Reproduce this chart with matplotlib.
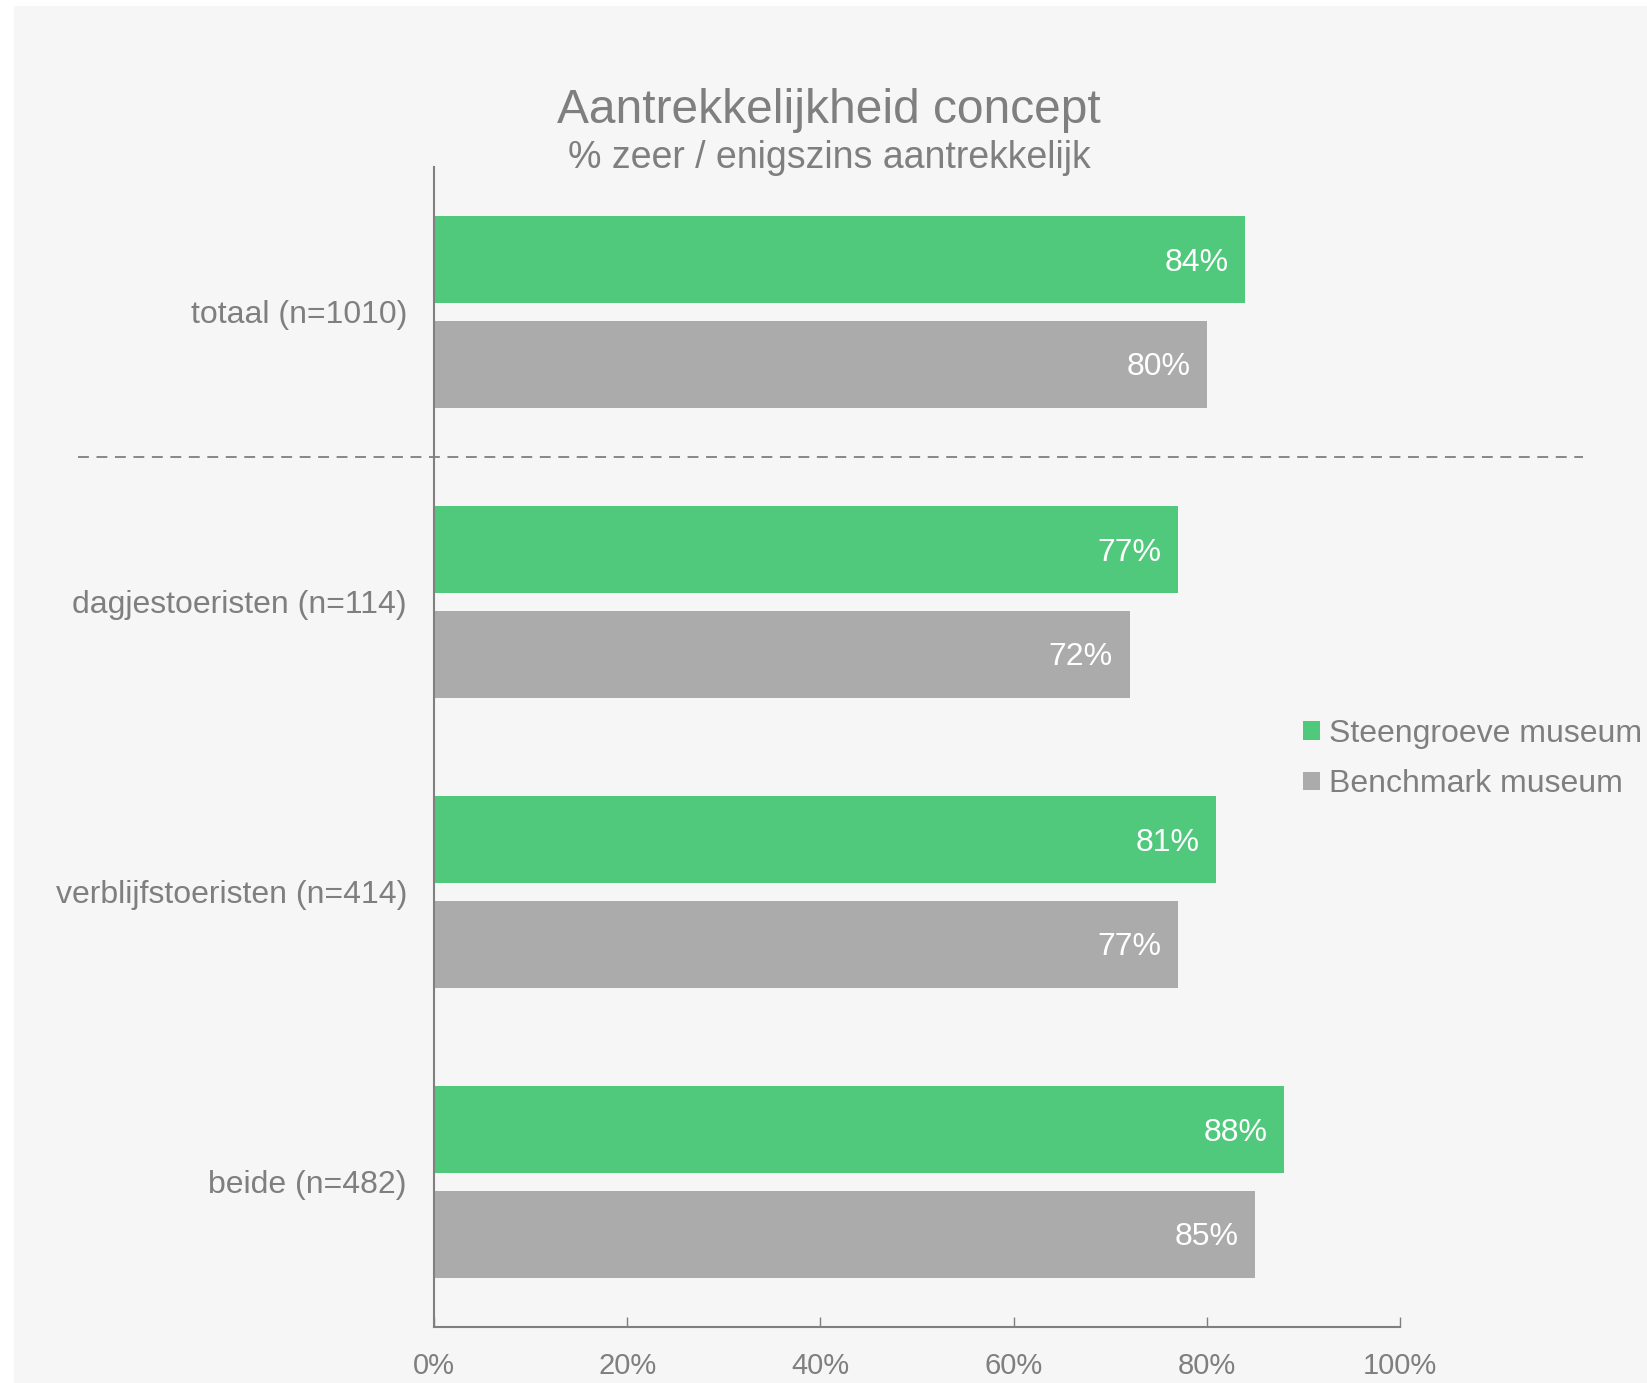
import numpy as np
import matplotlib
matplotlib.use("Agg")
import matplotlib.pyplot as plt
from matplotlib import font_manager
from matplotlib.patches import Rectangle

categories = ["totaal (n=1010)", "dagjestoeristen (n=114)",
              "verblijfstoeristen (n=414)", "beide (n=482)"]
steengroeve = [84, 77, 81, 88]
benchmark = [80, 72, 77, 85]
series_names = ["Steengroeve museum", "Benchmark museum"]
x_ticks = [0, 20, 40, 60, 80, 100]

GREEN = "#50C97D"
GREY_BAR = "#ABABAB"
TEXT = "#7F7F7F"
BG = "#F6F6F6"

installed = {f.name for f in font_manager.fontManager.ttflist}
plt.rcParams["font.family"] = ["Liberation Sans", "DejaVu Sans"]
narrow = "Liberation Sans Narrow" if "Liberation Sans Narrow" in installed else "Liberation Sans"

W, H = 1647, 1383
fig = plt.figure(figsize=(W / 100, H / 100), dpi=100, facecolor="white")
fig.patches.append(Rectangle((14 / W, 0), 1, 1 - 6 / H, transform=fig.transFigure,
                             facecolor=BG, edgecolor="none", zorder=-10))

ax = fig.add_axes([434 / W, 1 - 1327 / H, (1400 - 434) / W, (1327 - 167) / H])
ax.set_facecolor("none")

y = np.arange(len(categories))
h = 0.3
off = 0.18
b1 = ax.barh(y - off, steengroeve, height=h, color=GREEN, label=series_names[0])
b2 = ax.barh(y + off, benchmark, height=h, color=GREY_BAR, label=series_names[1])

for bars, vals in ((b1, steengroeve), (b2, benchmark)):
    for rect, v in zip(bars, vals):
        ax.annotate(f"{v}%", (v, rect.get_y() + rect.get_height() / 2),
                    xytext=(-12, -2), textcoords="offset points",
                    ha="right", va="center", color="white", fontsize=23)

# separator between total and the subgroups
ax.plot([-36.85, 118.9], [0.5, 0.5], color="#888888", lw=1.4,
        dashes=(5.6, 3.9), clip_on=False)

ax.set_xlim(0, 100)
ax.set_ylim(3.5, -0.5)
ax.set_xticks(x_ticks)
ax.set_xticklabels([f"{t}%" for t in x_ticks], fontfamily=narrow, fontsize=21)
ax.set_yticks(y)
ax.set_yticklabels(categories, fontsize=23)
ax.tick_params(axis="y", length=0, pad=19.5, colors=TEXT)
ax.tick_params(axis="x", direction="in", length=7, width=1, pad=18,
               colors=TEXT)
for s in ("top", "right"):
    ax.spines[s].set_visible(False)
for s in ("left", "bottom"):
    ax.spines[s].set_color("#808080")
    ax.spines[s].set_linewidth(1.5)

fig.text(829 / W, 1 - 123 / H, "Aantrekkelijkheid concept", ha="center",
         va="baseline", fontsize=34.5, color=TEXT)
fig.text(829 / W, 1 - 168 / H, "% zeer / enigszins aantrekkelijk", ha="center",
         va="baseline", fontsize=27, color=TEXT)

leg = fig.legend(handles=[b1, b2], loc="center left",
                 bbox_to_anchor=(1303 / W, 1 - 759 / H), frameon=False,
                 fontsize=23, handlelength=0.53, handleheight=0.53,
                 handletextpad=0.28, labelspacing=0.65, borderpad=0,
                 borderaxespad=0)
for t in leg.get_texts():
    t.set_color(TEXT)

fig.savefig("out.png", dpi=100, facecolor=fig.get_facecolor())
